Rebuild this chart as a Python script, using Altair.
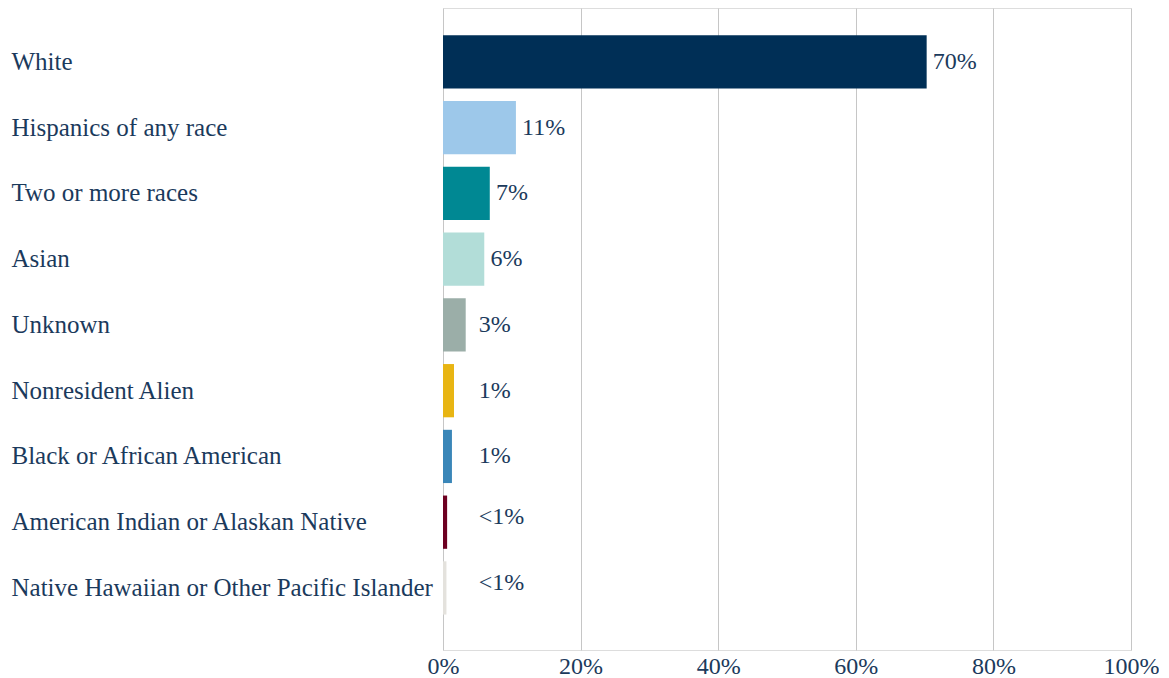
import altair as alt
import pandas as pd

categories = [
    "White",
    "Hispanics of any race",
    "Two or more races",
    "Asian",
    "Unknown",
    "Nonresident Alien",
    "Black or African American",
    "American Indian or Alaskan Native",
    "Native Hawaiian or Other Pacific Islander",
]
values = [0.703, 0.106, 0.068, 0.060, 0.033, 0.016, 0.013, 0.006, 0.005]
labels = ["70%", "11%", "7%", "6%", "3%", "1%", "1%", "<1%", "<1%"]
colors = ["#002f56", "#9dc8ea", "#008893", "#b2ddd8", "#9baea8",
          "#e8b513", "#3a86b8", "#6d0021", "#e4e2dd"]

df = pd.DataFrame({"category": categories, "value": values,
                   "label": labels, "color": colors})

FONT = "Liberation Serif"
TXT = "#1b3a5c"

y_enc = alt.Y("category:N", sort=categories, title=None,
              scale=alt.Scale(paddingInner=0.19, paddingOuter=0.477, align=0.435),
              axis=alt.Axis(labelAlign="left", labelPadding=432, labelLimit=0,
                            ticks=False, domain=False, labelFont=FONT,
                            labelFontSize=25, labelColor=TXT))

x_enc = alt.X("value:Q", title=None,
              scale=alt.Scale(domain=[0, 1], nice=False),
              axis=alt.Axis(format="%", values=[0, 0.2, 0.4, 0.6, 0.8, 1.0],
                            grid=True, gridColor="#c6c6c6", gridWidth=1,
                            ticks=False, domain=False, labelFont=FONT,
                            labelFontSize=24, labelColor=TXT, labelPadding=4,
                            labelFlush=False))

bars = alt.Chart(df).mark_bar().encode(
    y=y_enc,
    x=x_enc,
    color=alt.Color("color:N", scale=None),
)

base_text = alt.Chart(df).transform_calculate(
    lx="max(datum.value + 0.009, 0.052)"
)

text_main = base_text.transform_filter("datum.label != '<1%'").mark_text(
    align="left", baseline="middle", font=FONT, fontSize=24, color=TXT
).encode(
    y=alt.Y("category:N", sort=categories),
    x=alt.X("lx:Q"),
    text="label:N",
)

text_small = base_text.transform_filter("datum.label == '<1%'").mark_text(
    align="left", baseline="middle", font=FONT, fontSize=24, color=TXT, dy=-5
).encode(
    y=alt.Y("category:N", sort=categories),
    x=alt.X("lx:Q"),
    text="label:N",
)

chart = alt.layer(bars, text_main, text_small).properties(
    width=688, height=642,
    padding={"left": 3, "top": 0, "right": 0, "bottom": 0},
).configure_view(stroke=None).configure(background="white")

chart.save("out.html", embed_options={"renderer": "svg", "actions": False})
